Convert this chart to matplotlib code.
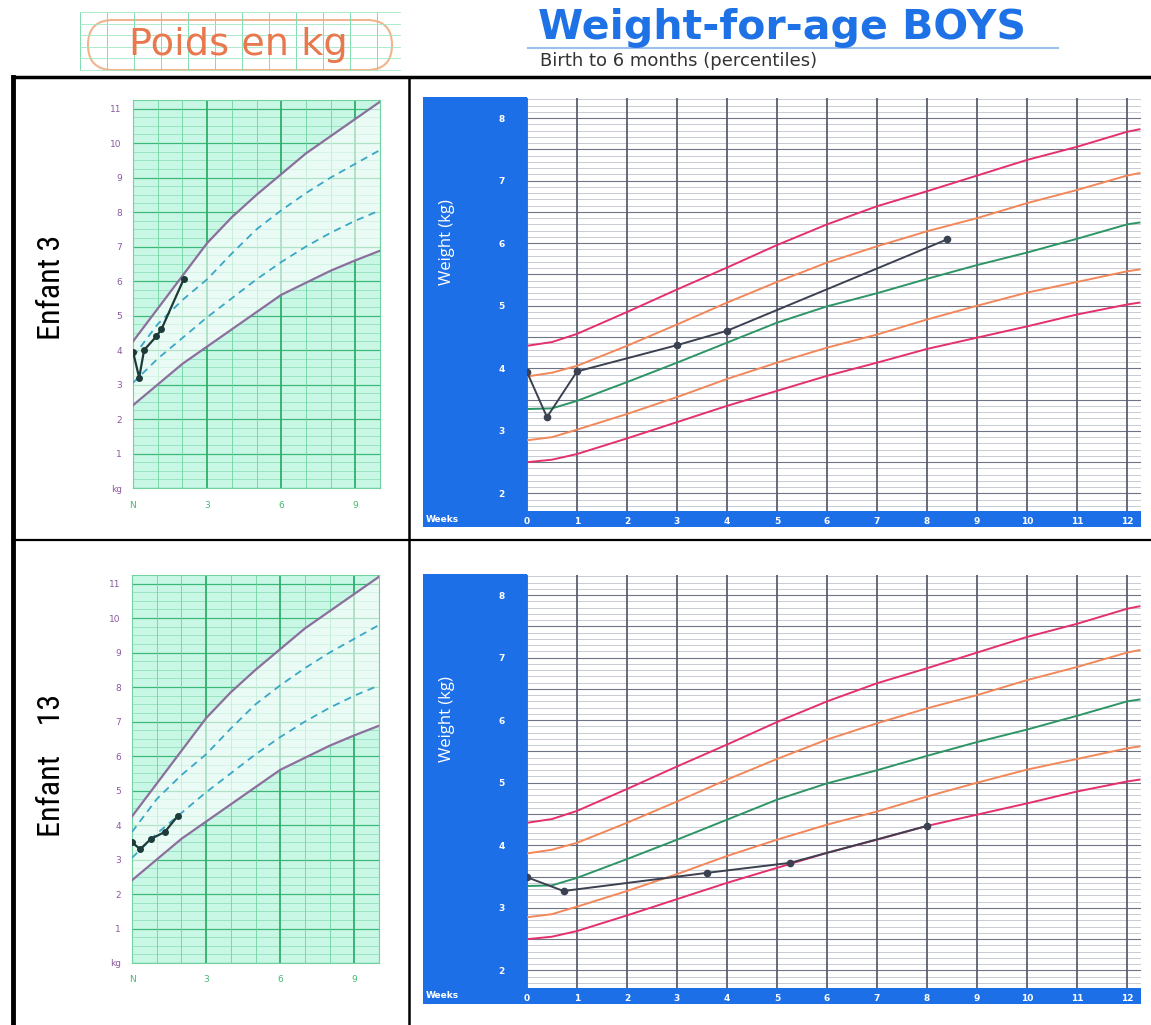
import matplotlib
matplotlib.use('Agg')
import matplotlib.pyplot as plt
import numpy as np
from matplotlib import font_manager
from matplotlib.patches import Rectangle, FancyBboxPatch

# ---- data ----
# french booklet chart (months, kg)
fr_months = [0, 1, 2, 3, 4, 5, 6, 7, 8, 9, 10]
fr_upper = [4.25, 5.2, 6.15, 7.1, 7.85, 8.5, 9.1, 9.7, 10.2, 10.7, 11.2]
fr_lower = [2.4, 3.0, 3.6, 4.1, 4.6, 5.1, 5.6, 5.95, 6.3, 6.6, 6.88]
fr_dash_hi = [3.8, 4.75, 5.45, 6.05, 6.8, 7.5, 8.05, 8.55, 9.0, 9.4, 9.8]
fr_dash_lo = [3.05, 3.75, 4.35, 4.95, 5.5, 6.05, 6.55, 7.0, 7.4, 7.75, 8.05]

# WHO weight-for-age boys, percentiles (weeks, kg)
who_weeks = [0, 0.5, 1, 2, 3, 4, 5, 6, 7, 8, 9, 10, 11, 12, 12.25]
p97 = [4.36, 4.42, 4.55, 4.90, 5.26, 5.61, 5.97, 6.30, 6.59, 6.83, 7.08, 7.33, 7.54, 7.78, 7.82]
p85 = [3.87, 3.93, 4.04, 4.36, 4.70, 5.05, 5.38, 5.69, 5.95, 6.19, 6.40, 6.64, 6.85, 7.08, 7.12]
p50 = [3.35, 3.36, 3.48, 3.78, 4.09, 4.41, 4.73, 4.99, 5.20, 5.43, 5.65, 5.85, 6.07, 6.30, 6.33]
p15 = [2.85, 2.90, 3.02, 3.27, 3.54, 3.83, 4.09, 4.33, 4.54, 4.78, 5.00, 5.21, 5.38, 5.55, 5.58]
p3 = [2.50, 2.54, 2.63, 2.88, 3.14, 3.40, 3.64, 3.88, 4.09, 4.31, 4.49, 4.67, 4.86, 5.02, 5.05]

children = ['Enfant 3', 'Enfant    13']
# small chart points (months, kg)
fr_child_months = [[0, 0.25, 0.45, 0.95, 1.15, 2.05],
                   [0, 0.33, 0.77, 1.33, 1.86]]
fr_child_kg = [[3.95, 3.2, 4.0, 4.4, 4.6, 6.05],
               [3.5, 3.3, 3.6, 3.8, 4.27]]
# WHO chart points (weeks, kg)
who_child_weeks = [[0, 0.4, 1.0, 3.0, 4.0, 8.4],
                   [0, 0.73, 3.6, 5.26, 8.0]]
who_child_kg = [[3.94, 3.22, 3.95, 4.37, 4.6, 6.06],
                [3.49, 3.27, 3.56, 3.72, 4.31]]


def pick_font(cands):
    """First installed family in cands, else None."""
    for c in cands:
        try:
            font_manager.findfont(font_manager.FontProperties(family=c),
                                  fallback_to_default=False)
            return c
        except ValueError:
            pass
    return None


narrow = pick_font(['Liberation Sans Narrow', 'Roboto Condensed',
                    'Open Sans Condensed'])
if narrow:
    side_font, side_size = narrow, 23
else:
    side_font, side_size = 'Liberation Sans', 19

W, H = 1151, 1025
fig = plt.figure(figsize=(W / 100, H / 100), dpi=100)
fig.patch.set_facecolor('white')


def px_axes(x0, y0, x1, y1):
    """Add axes placed with pixel coords (top-left origin)."""
    return fig.add_axes([x0 / W, 1 - y1 / H, (x1 - x0) / W, (y1 - y0) / H])


# overlay for frames, header and side labels
ov = px_axes(0, 0, W, H)
ov.set_xlim(0, W)
ov.set_ylim(H, 0)
ov.axis('off')

# header: green grid behind the "Poids en kg" tag
for gx in np.arange(80, 402, 27):
    ov.plot([gx, gx], [12, 70], color='#7fdcae', lw=0.7)
for gy in np.arange(12, 72, 11.5):
    ov.plot([80, 400], [gy, gy], color='#9fe6c2', lw=0.6)
ov.add_patch(FancyBboxPatch((88, 20), 304, 50,
                            boxstyle='round,pad=0,rounding_size=25',
                            facecolor='white', edgecolor='#f0b48e', lw=1.5))
ov.text(238, 45, 'Poids en kg', color='#e8784e', fontsize=27.5,
        family='DejaVu Sans', ha='center', va='center')

ov.text(538, 28, 'Weight-for-age BOYS', color='#1f72e6', fontsize=29.5,
        family='DejaVu Sans', weight='bold', ha='left', va='center')
ov.plot([528, 1058], [48, 48], color='#9cc0ee', lw=1.5)
ov.text(540, 61, 'Birth to 6 months (percentiles)', color='#333333',
        fontsize=13, family='DejaVu Sans', ha='left', va='center')

# table frame
ov.plot([13, 13], [77, H], color='black', lw=3.5)
ov.plot([13, W], [77, 77], color='black', lw=2.5)
ov.plot([13, W], [540, 540], color='black', lw=1.6)
ov.plot([409, 409], [77, H], color='black', lw=1.8)

rows = [
    # small chart box, who plot box, label center y
    dict(small=(133, 100, 380, 488), who=(527, 98, 1141, 511), ly=287),
    dict(small=(132, 575, 379, 963), who=(527, 575, 1141, 988), ly=765),
]

for i, row in enumerate(rows):
    ov.text(52, row['ly'], children[i], rotation=90, fontsize=side_size,
            family=side_font, ha='center', va='center', color='black')

    # ---- small french chart ----
    sx0, sy0, sx1, sy1 = row['small']
    ax = px_axes(sx0, sy0, sx1, sy1)
    ax.set_facecolor('#c9f7e6')
    ax.set_xlim(0, 10)
    ax.set_ylim(0, 11.25)
    for yv in np.arange(0, 11.3, 0.25):
        major = abs(yv - round(yv)) < 1e-6
        ax.axhline(yv, color='#3cb878' if major else '#80d9ad',
                   lw=0.9 if major else 0.45, zorder=1)
    for xv in range(0, 11):
        ax.axvline(xv, color='#2fae6a' if xv % 3 == 0 else '#6fd2a0',
                   lw=1.3 if xv % 3 == 0 else 0.6, zorder=1)
    ax.fill_between(fr_months, fr_lower, fr_upper, color='white',
                    alpha=0.6, lw=0, zorder=2)
    ax.plot(fr_months, fr_upper, color='#8b6f9c', lw=1.6, zorder=3)
    ax.plot(fr_months, fr_lower, color='#8b6f9c', lw=1.6, zorder=3)
    ax.plot(fr_months, fr_dash_hi, color='#3aa6c8', lw=1.3,
            ls=(0, (4, 3)), zorder=3)
    ax.plot(fr_months, fr_dash_lo, color='#3aa6c8', lw=1.3,
            ls=(0, (4, 3)), zorder=3)
    ax.plot(fr_child_months[i], fr_child_kg[i], color='#1d3b38', lw=1.6,
            marker='o', ms=4, zorder=4)
    ax.set_yticks(range(0, 12), ['kg'] + [str(v) for v in range(1, 12)])
    ax.set_xticks([0, 3, 6, 9], ['N', '3', '6', '9'])
    ax.tick_params(axis='y', length=0, pad=8, labelsize=6.5,
                   labelcolor='#8a5aa0')
    ax.tick_params(axis='x', length=0, pad=9, labelsize=6.5,
                   labelcolor='#45b870')
    for sp in ax.spines.values():
        sp.set_color('#6fd2a0')
        sp.set_linewidth(0.8)

    # ---- WHO chart ----
    wx0, wy0, wx1, wy1 = row['who']
    ov.add_patch(Rectangle((423, wy0 - 1), wx0 - 423, wy1 - wy0 + 17,
                           facecolor='#1d6fe8', edgecolor='none'))
    ov.add_patch(Rectangle((423, wy1), wx1 - 423, 16,
                           facecolor='#1d6fe8', edgecolor='none'))
    ov.text(426, wy1 + 8, 'Weeks', color='white', fontsize=6.5,
            weight='bold', ha='left', va='center')

    wa = px_axes(wx0, wy0, wx1, wy1)
    wa.set_facecolor('white')
    wa.set_xlim(0, 12.28)
    wa.set_ylim(1.72, 8.32)
    for yv in np.arange(1.8, 8.31, 0.1):
        major = abs(yv * 2 - round(yv * 2)) < 1e-6
        wa.axhline(yv, color='#6e7486' if major else '#a9aebb',
                   lw=0.8 if major else 0.45, zorder=1)
    for xv in range(0, 13):
        wa.axvline(xv, color='#5a5f6c', lw=1.3, zorder=1)
    for vals, col in [(p97, '#e4306c'), (p85, '#f2875a'), (p50, '#2e9566'),
                      (p15, '#f2875a'), (p3, '#e4306c')]:
        wa.plot(who_weeks, vals, color=col, lw=1.4, zorder=3)
    wa.plot(who_child_weeks[i], who_child_kg[i], color='#3b4150', lw=1.4,
            marker='o', ms=4.5, zorder=4)
    wa.set_xticks(range(0, 13))
    wa.set_yticks(range(2, 9))
    wa.tick_params(axis='x', length=0, pad=4, labelsize=6.5,
                   labelcolor='white')
    wa.tick_params(axis='y', length=0, pad=16, labelsize=6.5,
                   labelcolor='white')
    for lab in wa.get_xticklabels() + wa.get_yticklabels():
        lab.set_fontweight('bold')
    wa.set_ylabel('Weight (kg)', color='white', fontsize=12,
                  family='Open Sans')
    wa.yaxis.set_label_coords(-0.117, 0.65)
    for sp in wa.spines.values():
        sp.set_visible(False)

fig.savefig('out.png', dpi=100)
